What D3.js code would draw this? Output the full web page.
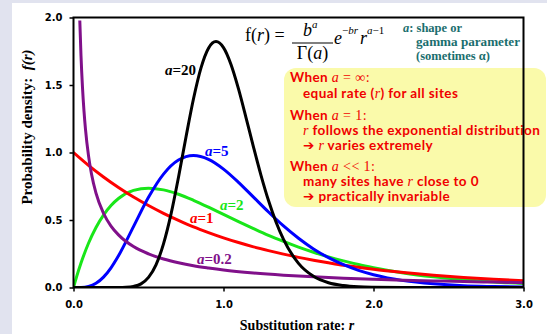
<!DOCTYPE html>
<html><head><meta charset="utf-8">
<script src="https://cdn.jsdelivr.net/npm/d3@7/dist/d3.min.js"></script>
<style>body{margin:0;background:#e1e3ef;} svg{display:block}</style>
</head><body><svg id="c" width="547" height="334"></svg>
<script>
// ---- data ----
const xTicks = [0, 1, 2, 3];
const xTickLabels = ["0.0", "1.0", "2.0", "3.0"];
const yTicks = [0, 0.5, 1, 1.5, 2];
const yTickLabels = ["0.0", "0.5", "1.0", "1.5", "2.0"];

const seriesNames = ["a=2", "a=1", "a=5", "a=0.2", "a=20"];
const seriesShape = ["2", "1", "5", "0.2", "20"];
const seriesColors = ["#19e619", "#ff0000", "#0000ff", "#80108a", "#000000"];

const rA2 = [0, 0.02, 0.05, 0.1, 0.15, 0.2, 0.25, 0.3, 0.4, 0.5, 0.6, 0.7, 0.8, 0.9, 1.0, 1.1, 1.2, 1.3, 1.4, 1.5, 1.6, 1.7, 1.8, 1.9, 2.0, 2.2, 2.4, 2.6, 2.8, 3.0];
const fA2 = [0, 0.077, 0.181, 0.328, 0.445, 0.536, 0.607, 0.659, 0.719, 0.736, 0.723, 0.691, 0.646, 0.595, 0.541, 0.488, 0.436, 0.386, 0.341, 0.299, 0.261, 0.227, 0.197, 0.170, 0.147, 0.108, 0.079, 0.057, 0.041, 0.030];

const rA1 = [0, 0.1, 0.2, 0.3, 0.4, 0.5, 0.6, 0.7, 0.8, 0.9, 1.0, 1.1, 1.2, 1.3, 1.4, 1.5, 1.6, 1.7, 1.8, 1.9, 2.0, 2.2, 2.4, 2.6, 2.8, 3.0];
const fA1 = [1.0, 0.905, 0.819, 0.741, 0.670, 0.607, 0.549, 0.497, 0.449, 0.407, 0.368, 0.333, 0.301, 0.273, 0.247, 0.223, 0.202, 0.183, 0.165, 0.150, 0.135, 0.111, 0.091, 0.074, 0.061, 0.050];

const rA5 = [0, 0.05, 0.1, 0.15, 0.2, 0.25, 0.3, 0.4, 0.5, 0.6, 0.7, 0.8, 0.9, 1.0, 1.1, 1.2, 1.3, 1.4, 1.5, 1.6, 1.7, 1.8, 1.9, 2.0, 2.2, 2.4, 2.6, 2.8, 3.0];
const fA5 = [0, 0.0006, 0.0079, 0.031, 0.077, 0.146, 0.235, 0.451, 0.668, 0.840, 0.944, 0.977, 0.949, 0.877, 0.779, 0.669, 0.559, 0.456, 0.365, 0.286, 0.221, 0.169, 0.127, 0.095, 0.051, 0.027, 0.013, 0.007, 0.003];

const rA02 = [0.042, 0.05, 0.06, 0.07, 0.08, 0.1, 0.12, 0.15, 0.2, 0.25, 0.3, 0.4, 0.5, 0.6, 0.7, 0.8, 0.9, 1.0, 1.2, 1.4, 1.6, 1.8, 2.0, 2.2, 2.4, 2.6, 2.8, 3.0];
const fA02 = [1.977, 1.717, 1.481, 1.307, 1.172, 0.977, 0.841, 0.699, 0.550, 0.455, 0.390, 0.303, 0.249, 0.211, 0.183, 0.161, 0.144, 0.129, 0.107, 0.091, 0.079, 0.069, 0.061, 0.054, 0.049, 0.044, 0.040, 0.036];

const rA20 = [0, 0.2, 0.3, 0.35, 0.4, 0.45, 0.5, 0.55, 0.6, 0.65, 0.7, 0.75, 0.8, 0.85, 0.9, 0.95, 1.0, 1.05, 1.1, 1.15, 1.2, 1.25, 1.3, 1.35, 1.4, 1.5, 1.6, 1.7, 1.8, 1.9, 2.0, 2.2, 2.5, 3.0];
const fA20 = [0, 0, 0.0002, 0.0017, 0.008, 0.027, 0.075, 0.168, 0.323, 0.543, 0.817, 1.115, 1.398, 1.627, 1.773, 1.822, 1.777, 1.652, 1.471, 1.259, 1.040, 0.831, 0.644, 0.485, 0.356, 0.179, 0.083, 0.035, 0.014, 0.005, 0.002, 0.0002, 0, 0];

const seriesR = [rA2, rA1, rA5, rA02, rA20];
const seriesF = [fA2, fA1, fA5, fA02, fA20];

// ---- layout ----
const svg = d3.select("#c");
const W = 547, H = 334;
const x = d3.scaleLinear().domain([0, 3]).range([73.5, 523.5]);
const y = d3.scaleLinear().domain([0, 2]).range([287.5, 17.5]);

svg.append("rect").attr("x", 0).attr("y", 0).attr("width", W).attr("height", H).attr("fill", "#e1e3ef");
svg.append("rect").attr("x", 12).attr("y", 3).attr("width", W - 12).attr("height", H - 3).attr("fill", "#ffffff");

// yellow note box (behind frame)
const note = svg.append("g");
note.append("rect").attr("x", 284).attr("y", 68).attr("width", 262).attr("height", 139)
  .attr("rx", 12).attr("fill", "#fafaaa");

// curves
svg.append("defs").append("clipPath").attr("id", "clip")
  .append("rect").attr("x", x(0)).attr("y", y(2)).attr("width", x(3) - x(0)).attr("height", y(0) - y(2));
const line = d3.line().x(d => x(d[0])).y(d => y(d[1])).curve(d3.curveMonotoneX);
const cg = svg.append("g").attr("clip-path", "url(#clip)");
seriesR.forEach((rs, i) => {
  const pts = rs.map((r, j) => [r, seriesF[i][j]]);
  cg.append("path").attr("d", line(pts)).attr("fill", "none")
    .attr("stroke", seriesColors[i]).attr("stroke-width", 3).attr("stroke-linejoin", "round");
});

// frame
svg.append("rect").attr("x", x(0)).attr("y", y(2)).attr("width", x(3) - x(0)).attr("height", y(0) - y(2))
  .attr("fill", "none").attr("stroke", "#000").attr("stroke-width", 2);

// axes
const xAxis = d3.axisBottom(x).tickValues(xTicks).tickFormat((d, i) => xTickLabels[i]).tickSizeOuter(0).tickSize(4).tickPadding(9);
const yAxis = d3.axisLeft(y).tickValues(yTicks).tickFormat((d, i) => yTickLabels[i]).tickSizeOuter(0).tickSize(4).tickPadding(7);
const gx = svg.append("g").attr("transform", `translate(0,${y(0)})`).call(xAxis);
const gy = svg.append("g").attr("transform", `translate(${x(0)},0)`).call(yAxis);
[gx, gy].forEach(g => {
  g.select(".domain").remove();
  g.selectAll(".tick line").attr("stroke", "#000").attr("stroke-width", 1.5);
  g.selectAll(".tick text").attr("fill", "#000").style("font-family", "DejaVu Sans, Verdana, sans-serif")
    .style("font-weight", "bold").style("font-size", "10px");
});

// axis titles
const serif = "Liberation Serif, Times New Roman, serif";
const xt = svg.append("text").attr("x", 297).attr("y", 330).attr("text-anchor", "middle")
  .style("font-family", serif).style("font-weight", "bold").style("font-size", "14px");
xt.append("tspan").text("Substitution rate: ");
xt.append("tspan").style("font-style", "italic").text("r");

const yt = svg.append("text").attr("transform", "translate(32,127) rotate(-90)").attr("text-anchor", "middle")
  .style("font-family", serif).style("font-weight", "bold").style("font-size", "15px");
yt.append("tspan").text("Probability density:\u00a0\u00a0");
yt.append("tspan").style("font-style", "italic").text("f(r)");

// curve labels
const labelPos = [[0.977, 0.574], [0.777, 0.478], [0.877, 0.974], [0.823, 0.174], [0.61, 1.574]];
seriesShape.forEach((s, i) => {
  const t = svg.append("text").attr("x", x(labelPos[i][0])).attr("y", y(labelPos[i][1]))
    .attr("fill", seriesColors[i]).style("font-family", serif).style("font-weight", "bold").style("font-size", "15px");
  t.append("tspan").style("font-style", "italic").text("a");
  t.append("tspan").text("=" + s);
});

// formula
const fg = svg.append("g").style("font-family", serif).attr("fill", "#000");
const f1 = fg.append("text").attr("x", 245).attr("y", 41).style("font-size", "18px");
f1.append("tspan").text("f(");
f1.append("tspan").style("font-style", "italic").text("r");
f1.append("tspan").text(") =");
const num = fg.append("text").attr("x", 303).attr("y", 36).style("font-size", "18px");
num.append("tspan").style("font-style", "italic").text("b");
num.append("tspan").style("font-style", "italic").style("font-size", "11px").attr("dy", -8).text("a");
fg.append("line").attr("x1", 292).attr("x2", 333).attr("y1", 43).attr("y2", 43).attr("stroke", "#000").attr("stroke-width", 1.2);
const den = fg.append("text").attr("x", 312.5).attr("y", 59).attr("text-anchor", "middle").style("font-size", "18px");
den.append("tspan").text("\u0393(");
den.append("tspan").style("font-style", "italic").text("a");
den.append("tspan").text(")");
const ex = fg.append("text").attr("x", 334).attr("y", 44).style("font-size", "18px");
ex.append("tspan").style("font-style", "italic").text("e");
ex.append("tspan").style("font-size", "11px").attr("dy", -10).text("\u2212");
ex.append("tspan").style("font-size", "11px").style("font-style", "italic").text("br");
ex.append("tspan").attr("dy", 10).attr("dx", 2).style("font-style", "italic").text("r");
ex.append("tspan").style("font-size", "11px").attr("dy", -10).style("font-style", "italic").text("a");
ex.append("tspan").style("font-size", "11px").text("\u22121");

// shape parameter note
const teal = "#1a6e6e";
const tg = svg.append("g").style("font-family", serif).style("font-weight", "bold").style("font-size", "12.5px").attr("fill", teal);
const t1 = tg.append("text").attr("x", 403).attr("y", 32);
t1.append("tspan").style("font-style", "italic").text("a");
t1.append("tspan").text(": shape or");
tg.append("text").attr("x", 416).attr("y", 46).attr("textLength", 104).attr("lengthAdjust", "spacingAndGlyphs").text("gamma parameter");
tg.append("text").attr("x", 416).attr("y", 60).text("(sometimes \u03b1)");

// red notes
const red = "#f00000";
const noteFont = "Lato, DejaVu Sans, sans-serif";
const noteLines = [
  {x: 290, y: 82, parts: [["When ", 0], ["a", 1], [" = \u221e:", 2]]},
  {x: 303, y: 98, parts: [["equal rate (", 0], ["r", 1], [") for all sites", 0]]},
  {x: 290, y: 120, parts: [["When ", 0], ["a", 1], [" = 1:", 2]]},
  {x: 303, y: 135, parts: [["r", 1], [" follows the exponential distribution", 0]]},
  {x: 303, y: 149.5, parts: [["\u2794 ", 0], ["r", 1], [" varies extremely", 0]]},
  {x: 290, y: 171, parts: [["When ", 0], ["a", 1], [" << 1:", 2]]},
  {x: 303, y: 186, parts: [["many sites have ", 0], ["r", 1], [" close to 0", 0]]},
  {x: 303, y: 200.5, parts: [["\u2794 practically invariable", 0]]}
];
noteLines.forEach(l => {
  const t = note.append("text").attr("x", l.x).attr("y", l.y).attr("fill", red)
    .style("font-family", noteFont).style("font-weight", "bold").style("font-size", "13.5px")
    .style("letter-spacing", "0.4px");
  l.parts.forEach(p => {
    const s = t.append("tspan").text(p[0]);
    if (p[1] === 1) s.style("font-family", serif).style("font-style", "italic").style("font-weight", "normal").style("font-size", "14px");
    if (p[1] === 2) s.style("font-family", serif).style("font-weight", "normal").style("font-size", "14px");
  });
});
</script></body></html>
